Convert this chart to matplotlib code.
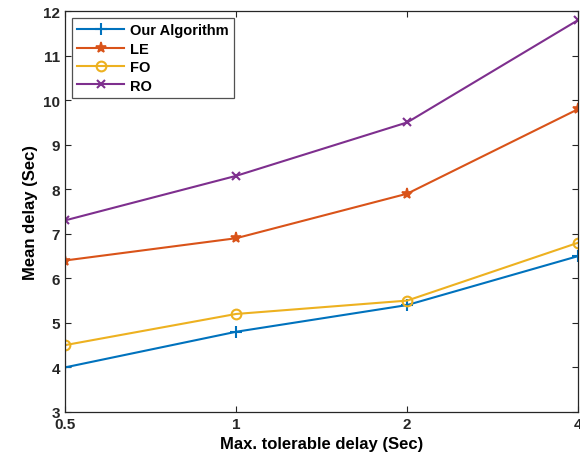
import matplotlib.pyplot as plt
from matplotlib.ticker import FixedLocator, FixedFormatter, NullLocator

max_delay = [0.5, 1, 2, 4]
x_labels = ['0.5', '1', '2', '4']
our_algorithm = [4.0, 4.8, 5.4, 6.5]
le = [6.4, 6.9, 7.9, 9.8]
fo = [4.5, 5.2, 5.5, 6.8]
ro = [7.3, 8.3, 9.5, 11.8]

plt.rcParams['font.family'] = 'Liberation Sans'
plt.rcParams['font.weight'] = 'bold'

fig = plt.figure(figsize=(5.8, 4.64), dpi=100)
ax = fig.add_axes([0.112, 0.110, 0.885, 0.864])

ax.plot(max_delay, our_algorithm, color='#0072BD', marker='+', markersize=8, mew=1.5, lw=1.5, label='Our Algorithm')
ax.plot(max_delay, le, color='#D95319', marker='*', markersize=8, mew=1.2, lw=1.5, label='LE')
ax.plot(max_delay, fo, color='#EDB120', marker='o', markersize=7, mfc='none', mew=1.5, lw=1.5, label='FO')
ax.plot(max_delay, ro, color='#7E2F8E', marker='x', markersize=6, mew=1.5, lw=1.5, label='RO')

ax.set_xscale('log', base=2)
ax.xaxis.set_major_locator(FixedLocator(max_delay))
ax.xaxis.set_major_formatter(FixedFormatter(x_labels))
ax.xaxis.set_minor_locator(NullLocator())
ax.set_xlim(0.5, 4)
ax.set_ylim(3, 12)
ax.set_yticks(range(3, 13))

ax.tick_params(direction='in', length=4, width=0.8, labelsize=11, top=True, right=True, colors='#262626')
for s in ax.spines.values():
    s.set_color('#262626')
    s.set_linewidth(0.9)

ax.set_xlabel('Max. tolerable delay (Sec)', fontsize=12, fontweight='bold')
ax.set_ylabel('Mean delay (Sec)', fontsize=12, fontweight='bold')

leg = ax.legend(loc='upper left', fontsize=10.5, frameon=True, fancybox=False, edgecolor='#262626',
                handlelength=3.2, handletextpad=0.4, borderpad=0.35, labelspacing=0.3, borderaxespad=0.5)
leg.get_frame().set_linewidth(0.9)

fig.savefig('out.png', dpi=100)
